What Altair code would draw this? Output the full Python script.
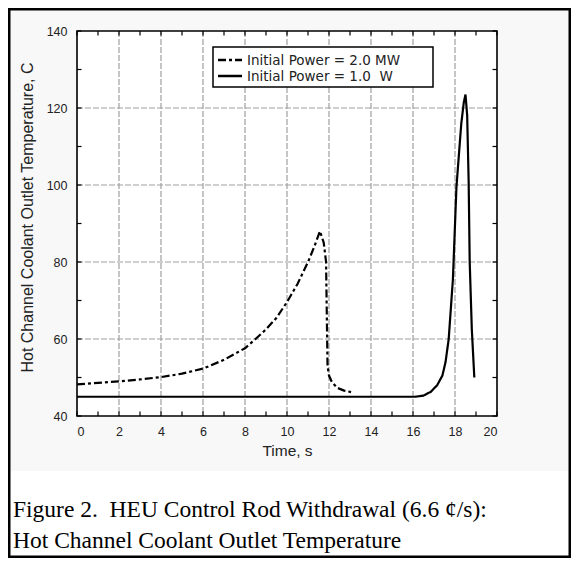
import altair as alt
import pandas as pd

# ---- data ----
series_names = ["Initial Power = 2.0 MW", "Initial Power = 1.0\u00a0\u00a0W"]

t_hi = [0, 1, 2, 3, 4, 5, 6, 7, 8, 8.5, 9, 9.5, 10, 10.5, 11, 11.3, 11.57,
        11.75, 11.86, 11.93, 12.0, 12.14, 12.4, 12.72, 13.05]
temp_hi = [48.2, 48.6, 49.0, 49.5, 50.1, 51.0, 52.3, 54.6, 57.6, 60.0, 62.5,
           65.5, 69.6, 74.3, 80.0, 84.0, 88.0, 85.0, 80.0, 53.0, 50.5, 48.8,
           47.3, 46.6, 46.2]

t_lo = [0, 16.1, 16.5, 16.85, 17.15, 17.4, 17.55, 17.7, 17.9, 18.07, 18.3,
        18.42, 18.5, 18.58, 18.65, 18.7, 18.8, 18.92]
temp_lo = [45, 45, 45.3, 46.3, 48, 50.5, 54, 60, 75.5, 99.6, 116, 121.5,
           123.5, 118, 101, 80, 62.6, 50]

x_major = list(range(0, 21, 2))
x_grid = list(range(2, 20, 2))
x_minor = list(range(0, 21))
y_major = list(range(40, 141, 20))
y_grid = list(range(60, 140, 20))
y_minor = list(range(40, 141, 10))

x_title = "Time, s"
y_title = "Hot Channel Coolant Outlet Temperature, C"
caption = ["Figure 2.\u00a0 HEU Control Rod Withdrawal (6.6 \u00a2/s):",
           "Hot Channel Coolant Outlet Temperature"]

dash_styles = [[8, 3, 3, 3], [1, 0]]

# ---- tables ----
rows = []
for i, (t, v) in enumerate(zip(t_hi, temp_hi)):
    rows.append({"t": t, "temp": v, "series": series_names[0], "ord": i})
for i, (t, v) in enumerate(zip(t_lo, temp_lo)):
    rows.append({"t": t, "temp": v, "series": series_names[1], "ord": i})
df = pd.DataFrame(rows)

W, H = 420, 385
PL, PT = 69, 23
PR = 563 - PL - W
PB = 550 - PT - H
xs = alt.Scale(domain=[0, 20], nice=False, zero=False)
ys = alt.Scale(domain=[40, 140], nice=False, zero=False)
one = pd.DataFrame({"a": [0]})
LF = "Liberation Sans"

ax_x = alt.Axis(values=x_major, grid=False, ticks=False, domain=False, title=x_title,
                labelFont=LF, labelFontSize=12.5, labelColor="#222", labelPadding=9,
                titleFont=LF, titleFontSize=15.5, titleFontWeight="normal", titleColor="#222",
                titlePadding=6)
ax_y = alt.Axis(values=y_major, grid=False, ticks=False, domain=False, title=y_title,
                labelFont=LF, labelFontSize=12.5, labelColor="#222", labelPadding=10,
                titleFont=LF, titleFontSize=16, titleFontWeight="normal", titleColor="#222",
                titlePadding=11, titleY=186)

# caption background (white) below the light-gray figure area
cap_bg = alt.Chart(one).mark_rect(fill="white").encode(
    x=alt.value(-PL), x2=alt.value(W + PR), y=alt.value(440), y2=alt.value(H + PB))

cap1 = alt.Chart(one).mark_text(text=caption[0], align="left", baseline="alphabetic",
                                font="Liberation Serif", fontSize=23.5, color="black").encode(
    x=alt.value(-PL + 5), y=alt.value(486))
cap2 = alt.Chart(one).mark_text(text=caption[1], align="left", baseline="alphabetic",
                                font="Liberation Serif", fontSize=23.5, color="black").encode(
    x=alt.value(-PL + 5), y=alt.value(517))

# grid lines
xg = alt.Chart(pd.DataFrame({"gx": x_grid})).mark_rule(
    color="#a0a0a0", strokeWidth=1.2, strokeDash=[6, 2]).encode(
    x=alt.X("gx:Q", scale=xs, axis=ax_x), y=alt.value(0), y2=alt.value(H))
yg = alt.Chart(pd.DataFrame({"gy": y_grid})).mark_rule(
    color="#a0a0a0", strokeWidth=1.2, strokeDash=[6, 2]).encode(
    y=alt.Y("gy:Q", scale=ys, axis=ax_y), x=alt.value(0), x2=alt.value(W))

# ticks on all four sides (inward)
tk = 4.5
xt_b = alt.Chart(pd.DataFrame({"tx": x_minor})).mark_rule(color="black", strokeWidth=1.2).encode(
    x=alt.X("tx:Q", scale=xs, axis=ax_x), y=alt.value(H), y2=alt.value(H - tk))
xt_t = alt.Chart(pd.DataFrame({"tx": x_minor})).mark_rule(color="black", strokeWidth=1.2).encode(
    x=alt.X("tx:Q", scale=xs, axis=ax_x), y=alt.value(0), y2=alt.value(tk))
yt_l = alt.Chart(pd.DataFrame({"ty": y_minor})).mark_rule(color="black", strokeWidth=1.2).encode(
    y=alt.Y("ty:Q", scale=ys, axis=ax_y), x=alt.value(0), x2=alt.value(tk))
yt_r = alt.Chart(pd.DataFrame({"ty": y_minor})).mark_rule(color="black", strokeWidth=1.2).encode(
    y=alt.Y("ty:Q", scale=ys, axis=ax_y), x=alt.value(W), x2=alt.value(W - tk))

lines = alt.Chart(df).mark_line(color="black", strokeWidth=2.2).encode(
    x=alt.X("t:Q", scale=xs, axis=ax_x),
    y=alt.Y("temp:Q", scale=ys, axis=ax_y),
    strokeDash=alt.StrokeDash("series:N", scale=alt.Scale(
        domain=series_names, range=dash_styles), legend=None),
    order="ord:Q",
    detail="series:N",
)

# legend box (top-centre of the plot)
LX, LY, LW, LH = 136, 16, 220, 40
leg_box = alt.Chart(one).mark_rect(fill="white", stroke="black", strokeWidth=1.5).encode(
    x=alt.value(LX), x2=alt.value(LX + LW), y=alt.value(LY), y2=alt.value(LY + LH))
leg_items = []
for k, name in enumerate(series_names):
    yy = LY + 13 + 16 * k
    leg_items.append(alt.Chart(one).mark_rule(color="black", strokeWidth=2.5,
                                              strokeDash=dash_styles[k]).encode(
        x=alt.value(LX + 5), x2=alt.value(LX + 29), y=alt.value(yy)))
    leg_items.append(alt.Chart(one).mark_text(text=name, align="left", baseline="middle",
                                              font="DejaVu Sans", fontSize=13.5,
                                              color="#222").encode(
        x=alt.value(LX + 34), y=alt.value(yy + 1)))

frame = alt.Chart(one).mark_rect(fill=None, stroke="black", strokeWidth=1.6).encode(
    x=alt.value(0), x2=alt.value(W), y=alt.value(0), y2=alt.value(H))

border = alt.Chart(one).mark_rect(fill=None, stroke="black", strokeWidth=2.5).encode(
    x=alt.value(-PL + 1.25), x2=alt.value(W + PR - 1.25),
    y=alt.value(-PT + 1.25), y2=alt.value(H + PB - 1.25))

chart = alt.layer(cap_bg, cap1, cap2, xg, yg, xt_b, xt_t, yt_l, yt_r, lines,
                  leg_box, *leg_items, frame, border).properties(
    width=W, height=H,
    autosize=alt.AutoSizeParams(type="none"),
    padding={"left": PL, "top": PT, "right": PR, "bottom": PB},
    background="#f8f8f8",
).configure_view(fill="white", stroke=None)

chart.save("out.html", embed_options={"renderer": "svg", "actions": False})
